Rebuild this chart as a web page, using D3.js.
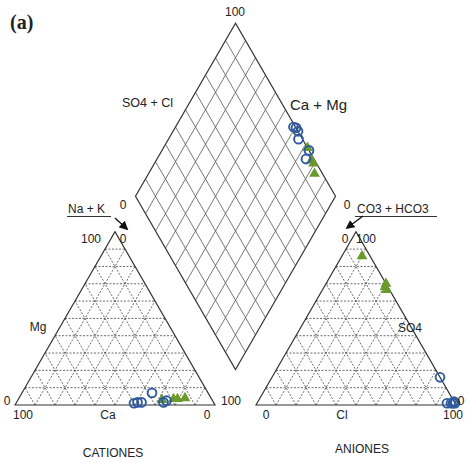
<!DOCTYPE html>
<html>
<head>
<meta charset="utf-8">
<script src="https://cdn.jsdelivr.net/npm/d3@7"></script>
<style>
  body { margin: 0; background: #fff; }
  svg text { font-family: "Liberation Sans", Arial, sans-serif; fill: #222; }
</style>
</head>
<body>
<div id="chart"></div>
<script>
// samples, percent of meq
// cations: Ca, Mg, Na+K ; anions: HCO3+CO3, SO4, Cl
var blueCations = [[40, 1, 59], [38, 1.5, 60.5], [36, 1.5, 62.5], [28, 7, 65], [25, 1.5, 73.5], [23, 2.5, 74.5]];
var blueAnions  = [[1, 1, 98], [0, 2, 98], [0, 16, 84], [2, 1, 97], [0, 1, 99], [4, 1, 95]];
var greenCations = [[19, 3.5, 77.5], [17, 3.5, 79.5], [13, 4, 83], [25, 3, 72]];
var greenAnions  = [[1.5, 68, 30.5], [1.5, 66.5, 32], [4, 86, 10], [0, 70, 30]];

var gridSteps = d3.range(10, 100, 10);

var App = {};
App.width = 469;
App.height = 463;
App.side = 200;
App.h = App.side * Math.sqrt(3) / 2;
App.baseY = 405;
App.gap = 41;

App.main = function() {
  App.svg = d3.select('#chart').append('svg')
    .attr('width', App.width)
    .attr('height', App.height);

  var leftX = 15, rightX = leftX + App.side + App.gap;
  App.ySc = d3.scaleLinear().domain([0, 100]).range([App.baseY, App.baseY - App.h]);
  App.xCat = d3.scaleLinear().domain([0, 100]).range([leftX, leftX + App.side]);
  App.xAn = d3.scaleLinear().domain([0, 100]).range([rightX, rightX + App.side]);

  var bx = leftX + App.side + App.gap / 2;
  var by = App.baseY - App.gap * Math.sqrt(3) / 2;
  App.dX = d3.scaleLinear().domain([-100, 100]).range([bx - App.side / 2, bx + App.side / 2]);
  App.dY = d3.scaleLinear().domain([0, 200]).range([by, by - 2 * App.h]);

  // ternary helpers: d = [left corner, top corner, right corner]
  App.cat = function(d) { return [App.xCat(d[2] + d[1] / 2), App.ySc(d[1])]; };
  App.an = function(d) { return [App.xAn(d[2] + d[1] / 2), App.ySc(d[1])]; };
  App.dia = function(cat, an) {
    var c = cat[0] + cat[1], s = an[1] + an[2];
    return [App.dX(s - c), App.dY(s + c)];
  };

  App.drawTriangle(App.cat);
  App.drawTriangle(App.an);
  App.drawDiamond();
  App.drawPoints();
  App.drawLabels();
};

App.drawTriangle = function(proj) {
  var g = App.svg.append('g');
  var lines = [];
  gridSteps.forEach(function(v) {
    lines.push([proj([100 - v, v, 0]), proj([0, v, 100 - v])]);   // const top
    lines.push([proj([100 - v, 0, v]), proj([0, 100 - v, v])]);   // const right
    lines.push([proj([v, 0, 100 - v]), proj([v, 100 - v, 0])]);   // const left
  });
  g.selectAll('line').data(lines).enter().append('line')
    .attr('x1', function(d) { return d[0][0]; })
    .attr('y1', function(d) { return d[0][1]; })
    .attr('x2', function(d) { return d[1][0]; })
    .attr('y2', function(d) { return d[1][1]; })
    .attr('stroke', '#444')
    .attr('stroke-width', 0.8)
    .attr('stroke-dasharray', '2,1.5');
  var corners = [proj([100, 0, 0]), proj([0, 100, 0]), proj([0, 0, 100])];
  g.append('path')
    .attr('d', d3.line()(corners) + 'Z')
    .attr('fill', 'none')
    .attr('stroke', '#333')
    .attr('stroke-width', 1.2);
};

App.drawDiamond = function() {
  var g = App.svg.append('g');
  var pt = function(s, c) { return [App.dX(s - c), App.dY(s + c)]; };
  var lines = [];
  gridSteps.forEach(function(v) {
    lines.push([pt(v, 0), pt(v, 100)]);
    lines.push([pt(0, v), pt(100, v)]);
  });
  g.selectAll('line').data(lines).enter().append('line')
    .attr('x1', function(d) { return d[0][0]; })
    .attr('y1', function(d) { return d[0][1]; })
    .attr('x2', function(d) { return d[1][0]; })
    .attr('y2', function(d) { return d[1][1]; })
    .attr('stroke', '#555')
    .attr('stroke-width', 0.8);
  g.append('path')
    .attr('d', d3.line()([pt(0, 0), pt(100, 0), pt(100, 100), pt(0, 100)]) + 'Z')
    .attr('fill', 'none')
    .attr('stroke', '#333')
    .attr('stroke-width', 1.2);
};

App.drawPoints = function() {
  var tri = d3.symbol().type(d3.symbolTriangle).size(50);
  var green = [], blue = [];
  greenCations.forEach(function(c, i) {
    green.push(App.cat(c), App.an(greenAnions[i]), App.dia(c, greenAnions[i]));
  });
  blueCations.forEach(function(c, i) {
    blue.push(App.cat(c), App.an(blueAnions[i]), App.dia(c, blueAnions[i]));
  });

  App.svg.append('g').selectAll('path').data(green).enter().append('path')
    .attr('d', tri)
    .attr('transform', function(d) { return 'translate(' + d[0] + ',' + d[1] + ')'; })
    .attr('fill', '#6b9a2c');

  App.svg.append('g').selectAll('circle').data(blue).enter().append('circle')
    .attr('cx', function(d) { return d[0]; })
    .attr('cy', function(d) { return d[1]; })
    .attr('r', 4.4)
    .attr('fill', 'none')
    .attr('stroke', '#2f5a9e')
    .attr('stroke-width', 1.9);
};

App.drawLabels = function() {
  var svg = App.svg;
  var t = function(x, y, s, size, anchor) {
    return svg.append('text').attr('x', x).attr('y', y)
      .attr('font-size', size || 12)
      .attr('text-anchor', anchor || 'middle')
      .text(s);
  };

  svg.append('text').attr('x', 10).attr('y', 29)
    .attr('font-weight', 'bold').attr('font-size', 20)
    .style('font-family', '"Liberation Serif", "Times New Roman", serif')
    .text('(a)');

  t(235, 16, '100');
  t(122, 107, 'SO4 + Cl', 12.5, 'start');
  t(290, 110, 'Ca + Mg', 15, 'start');
  t(123, 209, '0');
  t(347, 209, '0');

  // cations
  t(68, 213, 'Na + K', 12, 'start');
  svg.append('line').attr('x1', 67).attr('x2', 111).attr('y1', 216.5).attr('y2', 216.5)
    .attr('stroke', '#333').attr('stroke-width', 1);
  t(101, 243, '100', 12, 'end');
  t(123, 243, '0');
  t(38, 331, 'Mg');
  t(7, 405, '0');
  t(231, 405, '100');
  t(23, 419, '100');
  t(108, 419, 'Ca');
  t(207, 419, '0');
  t(113, 457, 'CATIONES');

  // anions
  t(357, 213, 'CO3 + HCO3', 12, 'start');
  svg.append('line').attr('x1', 355).attr('x2', 437).attr('y1', 216.5).attr('y2', 216.5)
    .attr('stroke', '#333').attr('stroke-width', 1);
  t(345, 243, '0');
  t(356, 243, '100', 12, 'start');
  t(410, 332, 'SO4');
  t(461, 405, '0');
  t(266, 419, '0');
  t(342, 419, 'Cl');
  t(453, 419, '100');
  t(362, 453, 'ANIONES');

  // arrows
  svg.append('defs').append('marker')
    .attr('id', 'arr').attr('viewBox', '0 0 10 10')
    .attr('refX', 8).attr('refY', 5)
    .attr('markerWidth', 7).attr('markerHeight', 7)
    .attr('orient', 'auto')
    .append('path').attr('d', 'M0,0L10,5L0,10Z').attr('fill', '#111');
  svg.append('line').attr('x1', 115).attr('y1', 218).attr('x2', 127).attr('y2', 229)
    .attr('stroke', '#111').attr('stroke-width', 1.3).attr('marker-end', 'url(#arr)');
  svg.append('line').attr('x1', 363).attr('y1', 216).attr('x2', 347).attr('y2', 228)
    .attr('stroke', '#111').attr('stroke-width', 1.3).attr('marker-end', 'url(#arr)');
};

App.main();
</script>
</body>
</html>
